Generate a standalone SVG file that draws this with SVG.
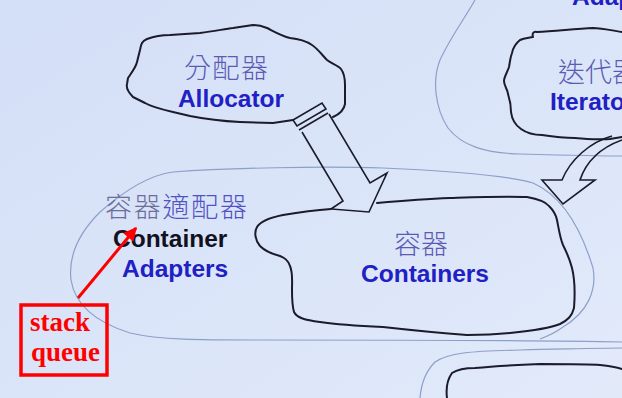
<svg xmlns="http://www.w3.org/2000/svg" width="622" height="398" viewBox="0 0 622 398">
  <style>
    .cloud { fill: none; stroke: #1b1b2b; stroke-width: 2; stroke-linejoin: round; stroke-linecap: round; }
    .region { fill: none; stroke: #8d9fc8; stroke-width: 1.2; stroke-linejoin: round; }
    .fat { fill: none; stroke: #1b1b2b; stroke-width: 1.6; stroke-linejoin: miter; }
    .zh { font-family: "Noto Sans CJK TC", "Noto Sans CJK SC", sans-serif; font-size: 27px; font-weight: 300; fill: #5b5bb4; }
    .en { font-family: "Liberation Sans", Arial, sans-serif; font-size: 24.5px; font-weight: bold; fill: #2020c4; }
    .note { font-family: "Liberation Serif", "Times New Roman", serif; font-size: 27px; font-weight: bold; fill: #ff0000; }
  </style>
  <defs>
    <linearGradient id="bg" x1="0" y1="0" x2="1" y2="1">
      <stop offset="0" stop-color="#d3dff7"/>
      <stop offset="1" stop-color="#e2eafa"/>
    </linearGradient>
    <marker id="redHead" viewBox="0 0 10 10" refX="9" refY="5" markerWidth="5" markerHeight="4.5" orient="auto" markerUnits="strokeWidth">
      <path d="M0,0 L10,5 L0,10 Z" fill="#ff0000"/>
    </marker>
  </defs>

  <rect width="622" height="398" fill="url(#bg)"/>

  <!-- thin region outlines -->
  <g id="regions">
    <path class="region" d="M173,172 C230,168 320,166 383,168 C450,171 510,176 533,183 C560,195 580,225 593,268 C597,290 588,312 563,327 C555,333 548,336 540,339"/>
    <path class="region" d="M173,172 C150,175 125,190 100,212 C80,232 68,255 71,280 C75,305 95,322 130,333 C160,340 200,340 260,340 C400,340 520,340 622,342"/>
    <path class="region" d="M475,0 C465,18 450,38 440,60 C432,80 435,108 448,128 C462,146 485,153 520,154 C560,155 600,156 622,156"/>
    <path class="region" d="M420,398 C421,385 425,372 435,362 C448,353 470,351 520,350 C570,349 600,348 622,348"/>
  </g>

  <!-- Allocator -->
  <g id="allocator">
    <path class="cloud" d="M293,120 L273,123 L240,122 C220,121 205,119 190,116 L173,112 C160,109 150,106 145,103 L133,97 C128,92 126,88 127,84 L128,78 C132,72 136,67 137,62 L140,50 C141,44 142,41 147,39 C155,36 162,35 170,35 L200,33 C215,31 225,29 233,28 L253,25 C258,25 262,26 267,28 C275,32 282,36 290,38 C300,39 306,41 312,45 C318,49 322,55 327,60 C332,64 338,65 341,69 C344,73 345,78 345,85 L345,104 C344,110 340,114 333,117"/>
    <text class="zh" x="226" y="78" text-anchor="middle" textLength="84">分配器</text>
    <text class="en" x="231" y="107" text-anchor="middle">Allocator</text>
  </g>

  <!-- Iterator -->
  <g id="iterator">
    <path class="cloud" d="M622,32 C610,30 600,28 593,28 C575,29 555,31 537,32 C533,31 532,34 533,37 C528,38 524,38 520,40 C515,44 513,48 512,53 C510,58 510,62 509,67 C507,73 504,77 504,81 C504,86 508,90 508,94 C510,100 511,105 511,112 C512,120 515,125 521,129 C528,134 535,135 542,135 C555,137 565,138 575,138 C590,139 600,140 610,139 L622,137"/>
    <text class="zh" x="558" y="82">迭代器</text>
    <text class="en" x="550" y="110">Iterator</text>
  </g>

  <!-- Adapters (partly above the frame) -->
  <g id="adapters-top">
    <text class="en" x="572" y="5">Adapters</text>
  </g>

  <!-- Container Adapters -->
  <g id="container-adapters">
    <text class="zh" x="105" y="217" textLength="142"><tspan fill="#6d6d9c">容器</tspan><tspan fill="#5252c2">適配器</tspan></text>
    <text class="en" x="113" y="247" style="fill:#12121e">Container</text>
    <text class="en" x="122" y="277">Adapters</text>
  </g>

  <!-- Containers -->
  <g id="containers">
    <path class="cloud" d="M377,203 C400,201 425,199 450,198 C480,197 505,196 527,197 C538,199 545,201 549,206 C554,211 556,215 557,220 C559,230 560,238 563,245 C567,253 570,260 572,268 C575,280 575,295 574,308 C572,316 568,320 560,324 C548,329 530,331 510,333 C490,335 475,335 467,335 C440,333 410,330 383,327 C360,326 340,325 320,322 C305,320 297,318 294,312 C292,305 292,298 292,290 C292,280 293,273 290,266 C288,260 285,258 280,256 C272,254 265,251 260,246 C255,240 254,232 257,227 C260,222 268,218 283,215 C300,212 315,210 331,209"/>
    <text class="zh" x="421" y="254" text-anchor="middle">容器</text>
    <text class="en" x="425" y="282" text-anchor="middle">Containers</text>
  </g>

  <!-- lower right outline -->
  <g id="lower-right">
    <path class="cloud" d="M447,398 C446,390 447,380 452,373 C458,369 465,368 475,368 C495,366 515,365 540,364 C565,364 590,364 600,365 C610,366 616,367 622,369"/>
  </g>

  <!-- connectors -->
  <g id="connectors">
    <!-- Allocator to Containers: hollow block arrow with a capped tail -->
    <path class="fat" d="M293,120 L322,103 L326,109 L297,126 Z"/>
    <path class="fat" d="M299,130 L328,113"/>
    <path class="fat" d="M302,132 L343,201 L331,209 L369,212 L387,173 L370,183 L329,114"/>
    <!-- Iterator to Containers: curved hollow arrow -->
    <path class="fat" d="M612,136 C590,142 570,160 562,180 L542,180 L563,204 L595,180 L580,180 C586,162 600,148 622,140"/>
    <!-- note pointer -->
    <line x1="78" y1="298" x2="136" y2="228" stroke="#ff0000" stroke-width="3" marker-end="url(#redHead)"/>
  </g>

  <!-- note box -->
  <g id="note">
    <rect x="21" y="305" width="86" height="70" fill="none" stroke="#ff0000" stroke-width="3.5"/>
    <text class="note" x="30" y="331">stack</text>
    <text class="note" x="31" y="361">queue</text>
  </g>
</svg>
